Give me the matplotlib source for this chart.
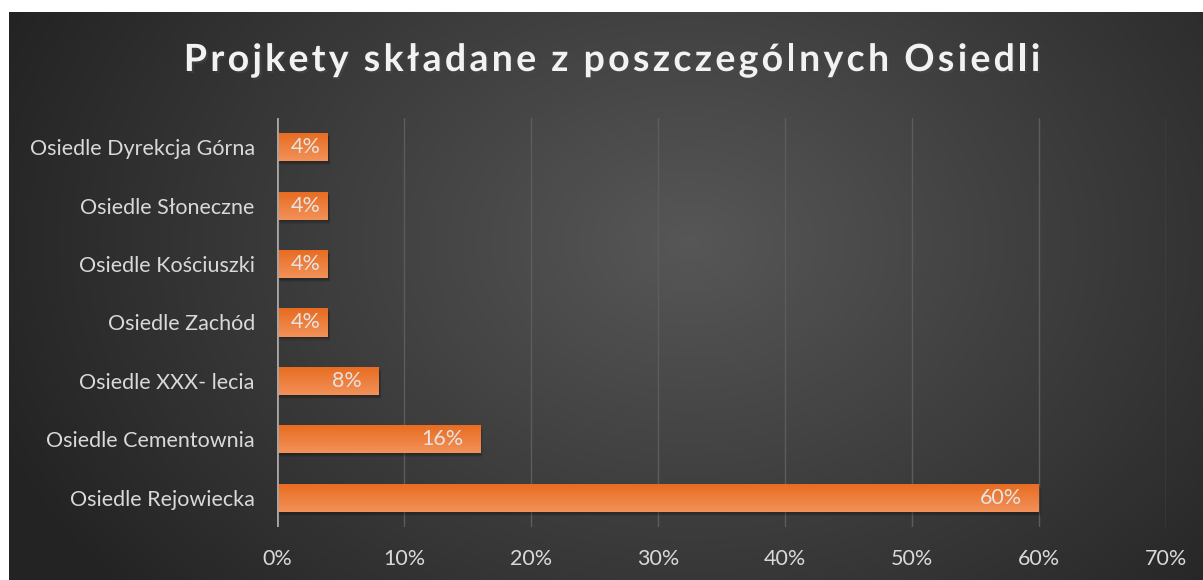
import numpy as np
import matplotlib.pyplot as plt
from matplotlib import patheffects as pe

categories = ["Osiedle Dyrekcja Górna", "Osiedle Słoneczne", "Osiedle Kościuszki",
              "Osiedle Zachód", "Osiedle XXX- lecia", "Osiedle Cementownia",
              "Osiedle Rejowiecka"]
shares = [4, 4, 4, 4, 8, 16, 60]
ticks = [0, 10, 20, 30, 40, 50, 60, 70]
title = "Projkety składane z poszczególnych Osiedli"

plt.rcParams['font.family'] = ['Lato', 'DejaVu Sans']

W, H = 1203, 580
fig = plt.figure(figsize=(W / 100, H / 100), dpi=100)
fig.patch.set_facecolor("white")

# dark radial background
bg = fig.add_axes([9 / W, 0, 1 - 9 / W, 1 - 12 / H], zorder=-10)
yy, xx = np.mgrid[0:568, 0:1194]
d = np.sqrt(((xx - 680) / 700.0) ** 2 + ((yy - 230) / 520.0) ** 2)
v = np.clip(0.34 - 0.19 * d, 0.14, 0.34)
bg.imshow(np.dstack([v, v, v]), aspect="auto", extent=[0, 1, 0, 1])
bg.axis("off")

ax = fig.add_axes([277 / W, 1 - 527 / H, (1166 - 277) / W, (527 - 118) / H])
ax.patch.set_alpha(0)
y = np.arange(len(categories))[::-1]
bars = ax.barh(y, shares, height=0.48, color="#ED7D31", zorder=3)

grad = np.linspace(0, 1, 50).reshape(-1, 1)
top = np.array([0.95, 0.57, 0.35])
bot = np.array([0.91, 0.42, 0.12])
img = top + (bot - top) * grad[..., None] * np.ones((1, 2, 1))
for b in bars:
    x0, y0 = b.get_x(), b.get_y()
    w, h = b.get_width(), b.get_height()
    # soft shadow
    for k, a in enumerate([0.12, 0.1, 0.08]):
        ax.add_patch(plt.Rectangle((x0 + 0.1 + 0.05 * k, y0 - 0.03 - 0.02 * k), w, h,
                                   color="black", alpha=a, zorder=2, lw=0))
    im = ax.imshow(img, extent=[x0, x0 + w, y0 + h, y0], aspect="auto", zorder=4)
    im.set_clip_path(b)

for yi, s in zip(y, shares):
    gap = 1.3 if s > 6 else 0.55
    ax.text(s - gap, yi, f"{s}%", ha="right", va="center", color="#e4e4e4",
            fontsize=15.5, zorder=5)

ax.set_xlim(0, 70)
ax.set_ylim(-0.5, len(categories) - 0.5)
ax.set_xticks(ticks)
ax.set_xticklabels([f"{t}%" for t in ticks])
ax.set_yticks(y)
ax.set_yticklabels(categories)
ax.tick_params(colors="#d9d9d9", labelsize=15.5, length=0)
ax.tick_params(axis="x", pad=16)
ax.tick_params(axis="y", pad=16)
ax.grid(axis="x", color="#5c5c5c", lw=1, zorder=0)
for sp in ax.spines.values():
    sp.set_visible(False)
ax.axvline(0, color="#a6a6a6", lw=2, zorder=6)

# title with letter spacing, placed char by char
renderer = fig.canvas.get_renderer()
tkw = dict(color="#f2f2f2", fontsize=27, fontweight="bold", va="center", ha="left",
           path_effects=[pe.withSimplePatchShadow(offset=(1.5, -1.5), alpha=0.5)])
spacing = 3.3
widths = []
for ch in title:
    t = fig.text(0, 0, ch if ch != " " else "a", **tkw)
    wpx = t.get_window_extent(renderer).width
    if ch == " ":
        wpx *= 0.45
    widths.append(wpx)
    t.remove()
total = sum(widths) + spacing * (len(title) - 1)
xpos = 612 - total / 2
for ch, wpx in zip(title, widths):
    if ch != " ":
        fig.text(xpos / W, 1 - 60 / H, ch, **tkw)
    xpos += wpx + spacing

fig.savefig("out.png", dpi=100)
